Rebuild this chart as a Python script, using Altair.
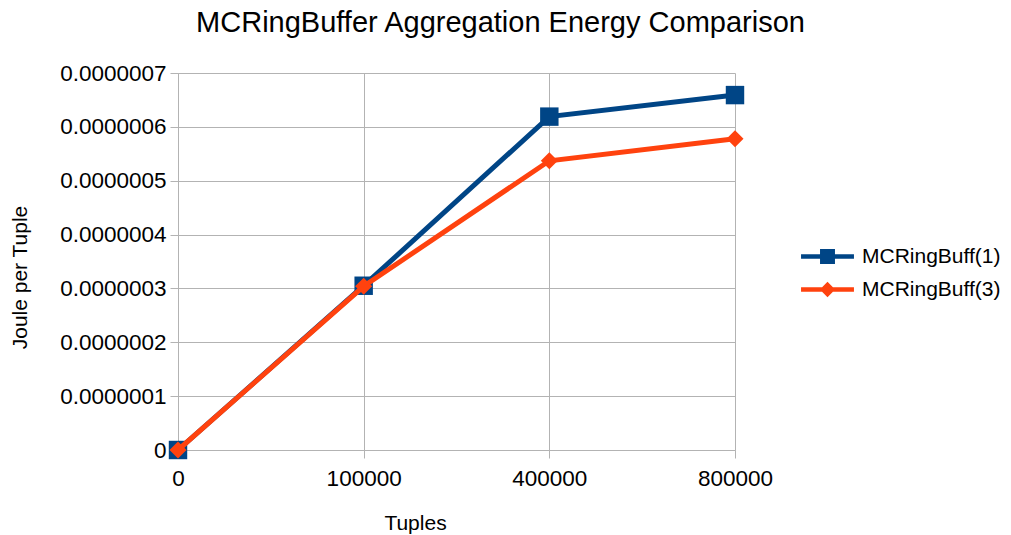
import altair as alt
import pandas as pd

tuples = ["0", "100000", "400000", "800000"]
buff1 = [0.0, 3.05e-7, 6.19e-7, 6.59e-7]
buff3 = [0.0, 3.04e-7, 5.37e-7, 5.78e-7]
series = ["MCRingBuff(1)", "MCRingBuff(3)"]
colors = ["#004586", "#ff420e"]
y_ticks = [0, 1e-7, 2e-7, 3e-7, 4e-7, 5e-7, 6e-7, 7e-7]

rows = []
for t, v in zip(tuples, buff1):
    rows.append({"Tuples": t, "value": v, "series": series[0]})
for t, v in zip(tuples, buff3):
    rows.append({"Tuples": t, "value": v, "series": series[1]})
df = pd.DataFrame(rows)

FONT = "Liberation Sans"
GRID = "#b3b3b3"

x_enc = alt.X(
    "Tuples:N",
    sort=tuples,
    scale=alt.Scale(type="point", padding=0),
    axis=alt.Axis(
        title="Tuples",
        labelAngle=0,
        grid=True,
        gridColor=GRID,
        domainColor=GRID,
        tickColor=GRID,
        tickSize=8,
        labelFontSize=22.5,
        labelPadding=9,
        labelColor="black",
        titleFontSize=21,
        titleFontWeight="normal",
        titleColor="black",
        titleX=237,
        titleY=73,
        titleBaseline="middle",
        titleAlign="center",
    ),
)
y_enc = alt.Y(
    "value:Q",
    scale=alt.Scale(domain=[0, 7e-7], nice=False),
    axis=alt.Axis(
        title="Joule per Tuple",
        values=y_ticks,
        format=".7~f",
        grid=True,
        gridColor=GRID,
        domainColor=GRID,
        tickColor=GRID,
        tickSize=8,
        labelFontSize=22.5,
        labelPadding=4,
        labelColor="black",
        titleFontSize=21,
        titleFontWeight="normal",
        titleColor="black",
        titleX=-158,
        titleY=204,
        titleAngle=270,
        titleBaseline="middle",
        titleAlign="center",
    ),
)

base = alt.Chart(df)

line_sq = "M-2.94,-0.25L2.94,-0.25L2.94,0.25L-2.94,0.25Z M-0.83,-0.83L0.83,-0.83L0.83,0.83L-0.83,0.83Z"
line_di = "M-2.94,-0.25L2.94,-0.25L2.94,0.25L-2.94,0.25Z M0,-0.85L0.85,0L0,0.85L-0.85,0Z"

legend = alt.Legend(
    title=None,
    orient="none",
    legendX=639,
    legendY=173,
    labelFontSize=21,
    labelColor="black",
    labelOffset=24,
    symbolSize=324,
    symbolStrokeWidth=0,
    rowPadding=11,
    padding=0,
)
legend_layer = base.transform_filter("false").mark_point(
    filled=True, size=324, opacity=1, strokeWidth=0
).encode(
    x=x_enc,
    y=y_enc,
    color=alt.Color("series:N", scale=alt.Scale(domain=series, range=colors), legend=legend),
    shape=alt.Shape("series:N", scale=alt.Scale(domain=series, range=[line_sq, line_di]), legend=legend),
)

layers = [legend_layer]
for s, shp, col in zip(series, ["square", "diamond"], colors):
    sub = base.transform_filter(alt.datum.series == s)
    layers.append(
        sub.mark_line(strokeWidth=5, color=col).encode(x=x_enc, y=y_enc)
    )
    layers.append(
        sub.mark_point(
            shape=shp, filled=True, color=col,
            size=340 if shp == "square" else 290, opacity=1, strokeWidth=0,
        ).encode(x=x_enc, y=y_enc)
    )

chart = alt.layer(*layers).properties(
    width=557,
    height=377,
    title=alt.Title(
        "MCRingBuffer Aggregation Energy Comparison",
        fontSize=29,
        fontWeight="normal",
        font=FONT,
        color="black",
        anchor="middle",
        dx=44,
        dy=-20,
    ),
    padding={"left": 170, "top": 65, "right": 268, "bottom": 85},
    autosize=alt.AutoSizeParams(type="none"),
).configure(font=FONT).configure_view(stroke=None).configure_axis(labelFont=FONT, titleFont=FONT).configure_legend(labelFont=FONT)

chart.save("out.html", embed_options={"renderer": "svg", "actions": False})
